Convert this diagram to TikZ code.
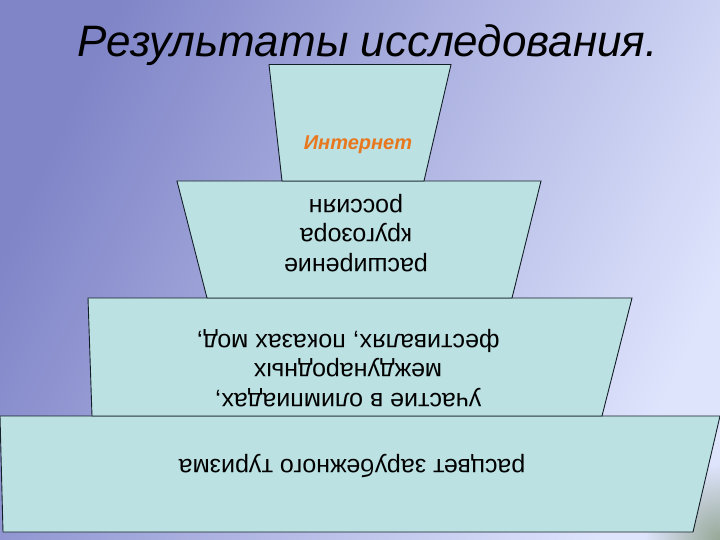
\documentclass[tikz,border=0pt]{standalone}
\usepackage{fontspec}
\setmainfont{Liberation Sans}
\usetikzlibrary{fadings}
\definecolor{bgleft}{RGB}{128,133,200}
\definecolor{bgright}{RGB}{222,228,252}
\definecolor{corner}{RGB}{150,168,150}
\definecolor{boxfill}{RGB}{187,225,227}
\definecolor{boxline}{RGB}{20,30,40}
\definecolor{orangetxt}{RGB}{232,119,30}
\tikzfading[name=cornerfade, inner color=transparent!0, outer color=transparent!100]
\tikzset{
  tier/.style={fill=boxfill, draw=boxline, line width=0.9pt, line join=miter},
  tiertext/.style={align=center, rotate=180, inner sep=0pt,
    font=\fontsize{25}{29.5}\selectfont, text=black},
  toptext/.style={inner sep=0pt, text=orangetxt,
    font=\fontsize{20}{24}\selectfont\bfseries\itshape},
  titletext/.style={anchor=base, inner sep=0pt,
    font=\fontsize{44}{50}\selectfont\itshape}
}
\begin{document}
\begin{tikzpicture}[x=1pt,y=-1pt]
\useasboundingbox (0,0) rectangle (720,540);
\shade[left color=bgleft, right color=bgright, shading angle=65] (0,0) rectangle (720,540);
\begin{scope}
\clip (0,0) rectangle (720,540);
\fill[corner, path fading=cornerfade] (720,540) circle (75);
\end{scope}
% title
\node[titletext] (title) at (367.5,57) {Результаты исследования.};
% tiers
\path[tier] (0,416) -- (720,416) -- (693,532) -- (3,532) -- cycle;
\path[tier] (88,298) -- (632,298) -- (602,416) -- (92,416) -- cycle;
\path[tier] (177,181) -- (541,181) -- (512,298) -- (207,298) -- cycle;
\path[tier] (269,64.5) -- (451,64.5) -- (424,181) -- (282,181) -- cycle;
% texts
\node[toptext] (t1) at (358,145) {Интернет};
\node[tiertext] (t2) at (356,233) {расширение\\кругозора\\россиян};
\node[tiertext] (t3) at (348,368) {участие в олимпиадах,\\международных\\фестивалях, показах мод,};
\node[tiertext] (t4) at (352,466) {расцвет зарубежного туризма};
\end{tikzpicture}
\end{document}
